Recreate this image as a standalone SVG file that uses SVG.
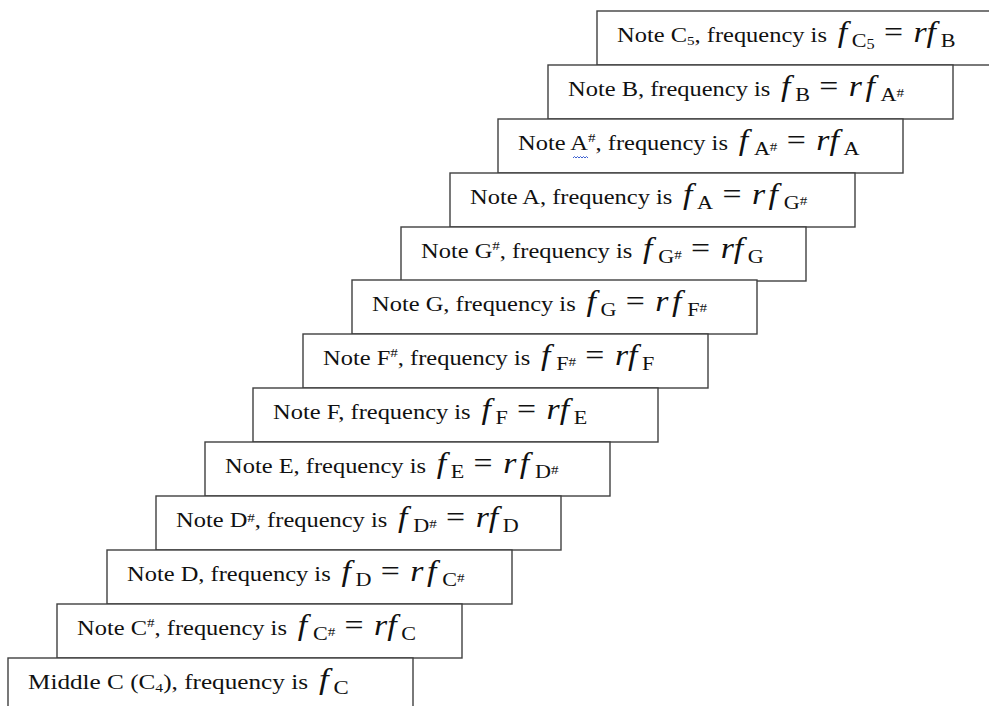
<svg xmlns="http://www.w3.org/2000/svg" width="989" height="706" viewBox="0 0 989 706">
<style>
.b{fill:#fff;stroke:#404040;stroke-width:1.4}
.t{font-family:"Liberation Serif","Times New Roman",serif;font-size:21px;fill:#111}
.m{font-style:italic;font-size:29px}
.e{font-size:29px}
.s{font-size:19px}
.h{font-size:13px}
.k{font-size:14px}
.p{font-size:13px}
.q{fill:none;stroke:#3a5fd0;stroke-width:1}
</style>
<rect width="989" height="706" fill="#fff"/>
<g id="connectors"/>
<g id="n-c5" transform="translate(597,11)">
<rect class="b" x="0" y="0" width="405" height="54"/>
<text class="t" transform="translate(20,31) scale(1.165,1)">Note C<tspan class="p" dy="3">5</tspan><tspan dy="-3">, frequency is </tspan><tspan class="m" dx="4">f</tspan><tspan class="s" dy="5" dx="4">C</tspan><tspan class="k" dy="2">5</tspan><tspan class="e" dy="-7" dx="8">=</tspan><tspan class="m" dx="9">r</tspan><tspan class="m" dx="0">f</tspan><tspan class="s" dy="5" dx="4">B</tspan></text>
</g>
<g id="n-b" transform="translate(548,65)">
<rect class="b" x="0" y="0" width="405" height="54"/>
<text class="t" transform="translate(20,31) scale(1.165,1)">Note B, frequency is <tspan class="m" dx="4">f</tspan><tspan class="s" dy="5" dx="4">B</tspan><tspan class="e" dy="-5" dx="8">=</tspan><tspan class="m" dx="9">r</tspan><tspan class="m" dx="3">f</tspan><tspan class="s" dy="5" dx="5">A</tspan><tspan class="h" dy="-4">#</tspan></text>
</g>
<g id="n-asharp" transform="translate(498,119)">
<rect class="b" x="0" y="0" width="405" height="54"/>
<text class="t" transform="translate(20,31) scale(1.165,1)">Note A<tspan class="p" dy="-8">#</tspan><tspan dy="8">, frequency is </tspan><tspan class="m" dx="4">f</tspan><tspan class="s" dy="5" dx="5">A</tspan><tspan class="h" dy="-4">#</tspan><tspan class="e" dy="-1" dx="8">=</tspan><tspan class="m" dx="9">r</tspan><tspan class="m" dx="0">f</tspan><tspan class="s" dy="5" dx="4">A</tspan></text>
<path class="q" d="M75,39 l1.5,-1.5 l1.5,1.5 l1.5,-1.5 l1.5,1.5 l1.5,-1.5 l1.5,1.5 l1.5,-1.5 l1.5,1.5 l1.5,-1.5 l1.5,1.5"/>
</g>
<g id="n-a" transform="translate(450,173)">
<rect class="b" x="0" y="0" width="405" height="54"/>
<text class="t" transform="translate(20,31) scale(1.165,1)">Note A, frequency is <tspan class="m" dx="4">f</tspan><tspan class="s" dy="5" dx="4">A</tspan><tspan class="e" dy="-5" dx="8">=</tspan><tspan class="m" dx="9">r</tspan><tspan class="m" dx="3">f</tspan><tspan class="s" dy="5" dx="5">G</tspan><tspan class="h" dy="-4">#</tspan></text>
</g>
<g id="n-gsharp" transform="translate(401,227)">
<rect class="b" x="0" y="0" width="405" height="54"/>
<text class="t" transform="translate(20,31) scale(1.165,1)">Note G<tspan class="p" dy="-8">#</tspan><tspan dy="8">, frequency is </tspan><tspan class="m" dx="4">f</tspan><tspan class="s" dy="5" dx="5">G</tspan><tspan class="h" dy="-4">#</tspan><tspan class="e" dy="-1" dx="8">=</tspan><tspan class="m" dx="9">r</tspan><tspan class="m" dx="0">f</tspan><tspan class="s" dy="5" dx="4">G</tspan></text>
</g>
<g id="n-g" transform="translate(352,280)">
<rect class="b" x="0" y="0" width="405" height="54"/>
<text class="t" transform="translate(20,31) scale(1.165,1)">Note G, frequency is <tspan class="m" dx="4">f</tspan><tspan class="s" dy="5" dx="4">G</tspan><tspan class="e" dy="-5" dx="8">=</tspan><tspan class="m" dx="9">r</tspan><tspan class="m" dx="3">f</tspan><tspan class="s" dy="5" dx="5">F</tspan><tspan class="h" dy="-4">#</tspan></text>
</g>
<g id="n-fsharp" transform="translate(303,334)">
<rect class="b" x="0" y="0" width="405" height="54"/>
<text class="t" transform="translate(20,31) scale(1.165,1)">Note F<tspan class="p" dy="-8">#</tspan><tspan dy="8">, frequency is </tspan><tspan class="m" dx="4">f</tspan><tspan class="s" dy="5" dx="5">F</tspan><tspan class="h" dy="-4">#</tspan><tspan class="e" dy="-1" dx="8">=</tspan><tspan class="m" dx="9">r</tspan><tspan class="m" dx="0">f</tspan><tspan class="s" dy="5" dx="4">F</tspan></text>
</g>
<g id="n-f" transform="translate(253,388)">
<rect class="b" x="0" y="0" width="405" height="54"/>
<text class="t" transform="translate(20,31) scale(1.165,1)">Note F, frequency is <tspan class="m" dx="4">f</tspan><tspan class="s" dy="5" dx="4">F</tspan><tspan class="e" dy="-5" dx="8">=</tspan><tspan class="m" dx="9">r</tspan><tspan class="m" dx="0">f</tspan><tspan class="s" dy="5" dx="4">E</tspan></text>
</g>
<g id="n-e" transform="translate(205,442)">
<rect class="b" x="0" y="0" width="405" height="54"/>
<text class="t" transform="translate(20,31) scale(1.165,1)">Note E, frequency is <tspan class="m" dx="4">f</tspan><tspan class="s" dy="5" dx="4">E</tspan><tspan class="e" dy="-5" dx="8">=</tspan><tspan class="m" dx="9">r</tspan><tspan class="m" dx="3">f</tspan><tspan class="s" dy="5" dx="5">D</tspan><tspan class="h" dy="-4">#</tspan></text>
</g>
<g id="n-dsharp" transform="translate(156,496)">
<rect class="b" x="0" y="0" width="405" height="54"/>
<text class="t" transform="translate(20,31) scale(1.165,1)">Note D<tspan class="p" dy="-5">#</tspan><tspan dy="5">, frequency is </tspan><tspan class="m" dx="4">f</tspan><tspan class="s" dy="5" dx="5">D</tspan><tspan class="h" dy="-4">#</tspan><tspan class="e" dy="-1" dx="8">=</tspan><tspan class="m" dx="9">r</tspan><tspan class="m" dx="0">f</tspan><tspan class="s" dy="5" dx="4">D</tspan></text>
</g>
<g id="n-d" transform="translate(107,550)">
<rect class="b" x="0" y="0" width="405" height="54"/>
<text class="t" transform="translate(20,31) scale(1.165,1)">Note D, frequency is <tspan class="m" dx="4">f</tspan><tspan class="s" dy="5" dx="4">D</tspan><tspan class="e" dy="-5" dx="8">=</tspan><tspan class="m" dx="9">r</tspan><tspan class="m" dx="3">f</tspan><tspan class="s" dy="5" dx="5">C</tspan><tspan class="h" dy="-4">#</tspan></text>
</g>
<g id="n-csharp" transform="translate(57,604)">
<rect class="b" x="0" y="0" width="405" height="54"/>
<text class="t" transform="translate(20,31) scale(1.165,1)">Note C<tspan class="p" dy="-8">#</tspan><tspan dy="8">, frequency is </tspan><tspan class="m" dx="4">f</tspan><tspan class="s" dy="5" dx="5">C</tspan><tspan class="h" dy="-4">#</tspan><tspan class="e" dy="-1" dx="8">=</tspan><tspan class="m" dx="9">r</tspan><tspan class="m" dx="0">f</tspan><tspan class="s" dy="5" dx="4">C</tspan></text>
</g>
<g id="n-c4" transform="translate(8,658)">
<rect class="b" x="0" y="0" width="405" height="60"/>
<text class="t" transform="translate(20,31) scale(1.2,1)">Middle C (C<tspan class="p" dy="3">4</tspan><tspan dy="-3">), frequency is </tspan><tspan class="m" dx="4">f</tspan><tspan class="s" dy="5" dx="4">C</tspan></text>
</g>
</svg>
